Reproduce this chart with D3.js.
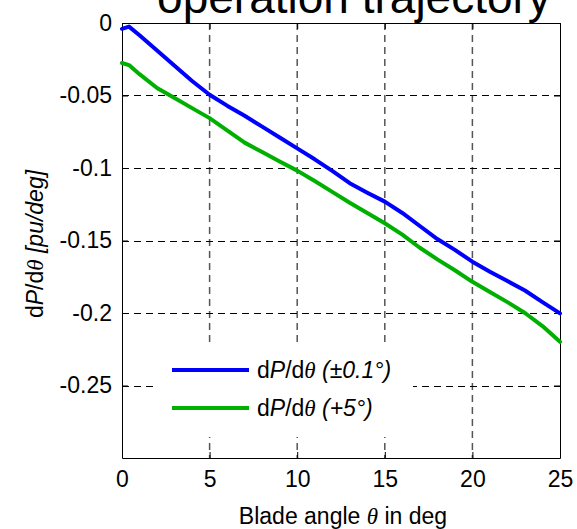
<!DOCTYPE html>
<html>
  <head>
    <meta charset="utf-8">
    <title>dP/dtheta</title>
    <style media="screen">
      body { margin: 0; background: #fff; }
      text { font-family: "Liberation Sans", Arial, sans-serif; fill: #000; }
      .grid line { stroke: #000; stroke-width: 1; stroke-dasharray: 7,5; }
      .axis path, .axis line { stroke: #000; stroke-width: 1; }
      .axis text { font-size: 23px; }
    </style>
  </head>
  <body>
    <div class="container"></div>
    <script src="https://cdn.jsdelivr.net/npm/d3@7/dist/d3.min.js" charset="utf-8"></script>
    <script type="text/javascript">
    // blade angle (deg)
    var angles = [0, 0.4, 1, 2, 3, 4, 5, 6, 7, 8, 9, 10, 11, 12, 13, 14, 15, 16, 17, 18, 19, 20, 21, 22, 23, 24, 25];
    // dP/dtheta with +-0.1 deg step
    var small = [-0.0040, -0.0025, -0.0085, -0.0190, -0.0295, -0.0400, -0.0495, -0.0570, -0.0640, -0.0715, -0.0790,
                 -0.0865, -0.0940, -0.1020, -0.1105, -0.1170, -0.1232, -0.1310, -0.1400, -0.1490, -0.1565, -0.1646,
                 -0.1715, -0.1780, -0.1845, -0.1925, -0.2003];
    // dP/dtheta with +5 deg step
    var big = [-0.0276, -0.0290, -0.0353, -0.0448, -0.0517, -0.0587, -0.0656, -0.0740, -0.0825, -0.0890, -0.0955,
               -0.1018, -0.1090, -0.1165, -0.1240, -0.1310, -0.1381, -0.1460, -0.1550, -0.1630, -0.1705, -0.1785,
               -0.1855, -0.1925, -0.2000, -0.2090, -0.2199];
    var xTicks = [0, 5, 10, 15, 20, 25];
    var yTicks = [0, -0.05, -0.1, -0.15, -0.2, -0.25];

    var width = 577;
    var height = 529;
    var padding = { left: 122, right: 17, top: 23, bottom: 71 };

    var svg = d3.select(".container")
        .append("svg")
        .attr("width", width)
        .attr("height", height);

    var x = d3.scaleLinear().domain([0, 25]).range([padding.left, width - padding.right]);
    var y = d3.scaleLinear().domain([-0.3, 0]).range([height - padding.bottom, padding.top]);

    // title (only the bottom of it is inside the picture, as in the original)
    svg.append("text")
        .attr("x", 354)
        .attr("y", 13)
        .attr("text-anchor", "middle")
        .style("font-size", "46px")
        .text("operation trajectory");

    // grid
    var grid = svg.append("g").attr("class", "grid");
    grid.selectAll(".vx")
        .data(xTicks.slice(1, -1))
        .enter()
        .append("line")
        .attr("x1", function(d) { return x(d); })
        .attr("x2", function(d) { return x(d); })
        .attr("y1", y(0))
        .attr("y2", y(-0.3))
        .style("stroke", "#555")
        .style("stroke-width", 1.5);
    grid.selectAll(".hy")
        .data(yTicks.slice(1))
        .enter()
        .append("line")
        .attr("x1", x(0))
        .attr("x2", x(25))
        .attr("y1", function(d) { return Math.round(y(d)) + 0.5; })
        .attr("y2", function(d) { return Math.round(y(d)) + 0.5; });

    // legend background hides the grid behind it
    svg.append("rect")
        .attr("x", 157)
        .attr("y", 345)
        .attr("width", 256)
        .attr("height", 92)
        .style("fill", "#fff");

    // axes
    svg.append("g")
        .attr("class", "axis")
        .attr("transform", "translate(0," + y(-0.3) + ")")
        .call(d3.axisBottom(x).tickValues(xTicks).tickSizeInner(-6).tickSizeOuter(0).tickPadding(13).tickFormat(d3.format("d")));
    svg.append("g")
        .attr("class", "axis")
        .attr("transform", "translate(0," + y(0) + ")")
        .call(d3.axisTop(x).tickValues(xTicks).tickSizeInner(-6).tickSizeOuter(0).tickFormat(""));
    svg.append("g")
        .attr("class", "axis")
        .attr("transform", "translate(" + x(0) + ",0)")
        .call(d3.axisLeft(y).tickValues(yTicks).tickSizeInner(-6).tickSizeOuter(0).tickPadding(10)
          .tickFormat(function(d) { return d === 0 ? "0" : String(d); }));
    svg.append("g")
        .attr("class", "axis")
        .attr("transform", "translate(" + x(25) + ",0)")
        .call(d3.axisRight(y).tickValues(yTicks).tickSizeInner(-6).tickSizeOuter(0).tickFormat(""));

    // curves
    var line = d3.line()
        .x(function(d) { return x(d[0]); })
        .y(function(d) { return y(d[1]); });

    var series = [
      { values: small, color: "#0000ff" },
      { values: big, color: "#00b000" }
    ];

    svg.selectAll(".curve")
        .data(series)
        .enter()
        .append("path")
        .attr("class", "curve")
        .attr("d", function(s) { return line(d3.zip(angles, s.values)); })
        .style("fill", "none")
        .style("stroke", function(s) { return s.color; })
        .style("stroke-width", 4)
        .style("stroke-linejoin", "round")
        .style("stroke-linecap", "round");

    // legend
    var legendLabels = ["\u00b10.1\u00b0)", "+5\u00b0)"];
    var leg = svg.selectAll(".leg")
        .data(series)
        .enter()
        .append("g")
        .attr("class", "leg")
        .attr("transform", function(d, i) { return "translate(0," + (370 + i * 38) + ")"; });
    leg.append("line")
        .attr("x1", 172)
        .attr("x2", 249)
        .attr("y1", 0)
        .attr("y2", 0)
        .style("stroke", function(d) { return d.color; })
        .style("stroke-width", 4);
    var lt = leg.append("text")
        .attr("x", 257)
        .attr("y", 8)
        .style("font-size", "23px");
    lt.append("tspan").text("d");
    lt.append("tspan").style("font-style", "italic").text("P");
    lt.append("tspan").text("/d");
    lt.append("tspan").style("font-style", "italic").style("font-family", "Liberation Serif, serif").text("\u03b8");
    lt.append("tspan").style("font-style", "italic").text(function(d, i) { return " (" + legendLabels[i]; });

    // axis labels
    var xl = svg.append("text")
        .attr("x", 343)
        .attr("y", 524)
        .attr("text-anchor", "middle")
        .style("font-size", "23px");
    xl.append("tspan").text("Blade angle ");
    xl.append("tspan").style("font-style", "italic").style("font-family", "Liberation Serif, serif").text("\u03b8");
    xl.append("tspan").text(" in deg");

    var yl = svg.append("text")
        .attr("transform", "translate(43,244) rotate(-90)")
        .attr("text-anchor", "middle")
        .style("font-size", "23px");
    yl.append("tspan").text("d");
    yl.append("tspan").style("font-style", "italic").text("P");
    yl.append("tspan").text("/d");
    yl.append("tspan").style("font-style", "italic").style("font-family", "Liberation Serif, serif").text("\u03b8");
    yl.append("tspan").style("font-style", "italic").text(" [pu/deg]");
    </script>
  </body>
</html>
